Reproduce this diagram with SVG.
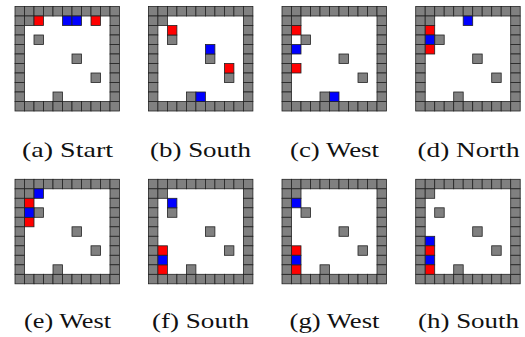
<svg xmlns="http://www.w3.org/2000/svg" width="525" height="337" viewBox="0 0 525 337">
<style>
.c{stroke:#222;stroke-width:.8}
.g{fill:#808080}.r{fill:#f00}.b{fill:#00f}
text{font-family:"Liberation Serif","Times New Roman",serif;font-size:22px;fill:#111;text-anchor:middle}
</style>
<defs>
<rect id="w" class="c g" width="9.5" height="9.5"/>
<rect id="rd" class="c r" width="9.5" height="9.5"/>
<rect id="bl" class="c b" width="9.5" height="9.5"/>
<g id="board">
<use href="#w" x="0" y="0"/><use href="#w" x="9.5" y="0"/><use href="#w" x="19" y="0"/><use href="#w" x="28.5" y="0"/><use href="#w" x="38" y="0"/><use href="#w" x="47.5" y="0"/><use href="#w" x="57" y="0"/><use href="#w" x="66.5" y="0"/><use href="#w" x="76" y="0"/><use href="#w" x="85.5" y="0"/><use href="#w" x="95" y="0"/>
<use href="#w" x="0" y="95"/><use href="#w" x="9.5" y="95"/><use href="#w" x="19" y="95"/><use href="#w" x="28.5" y="95"/><use href="#w" x="38" y="95"/><use href="#w" x="47.5" y="95"/><use href="#w" x="57" y="95"/><use href="#w" x="66.5" y="95"/><use href="#w" x="76" y="95"/><use href="#w" x="85.5" y="95"/><use href="#w" x="95" y="95"/>
<use href="#w" x="0" y="9.5"/><use href="#w" x="0" y="19"/><use href="#w" x="0" y="28.5"/><use href="#w" x="0" y="38"/><use href="#w" x="0" y="47.5"/><use href="#w" x="0" y="57"/><use href="#w" x="0" y="66.5"/><use href="#w" x="0" y="76"/><use href="#w" x="0" y="85.5"/>
<use href="#w" x="95" y="9.5"/><use href="#w" x="95" y="19"/><use href="#w" x="95" y="28.5"/><use href="#w" x="95" y="38"/><use href="#w" x="95" y="47.5"/><use href="#w" x="95" y="57"/><use href="#w" x="95" y="66.5"/><use href="#w" x="95" y="76"/><use href="#w" x="95" y="85.5"/>
<use href="#w" x="9.5" y="9.5"/><use href="#w" x="19" y="28.5"/><use href="#w" x="57" y="47.5"/><use href="#w" x="76" y="66.5"/><use href="#w" x="38" y="85.5"/>
</g>
</defs>
<g id="panel-a" transform="translate(15,6.5)"><use href="#board"/><use href="#rd" x="19" y="9.5"/><use href="#bl" x="47.5" y="9.5"/><use href="#bl" x="57" y="9.5"/><use href="#rd" x="76" y="9.5"/></g>
<text x="67.5" y="157" textLength="91" lengthAdjust="spacingAndGlyphs">(a) Start</text>
<g id="panel-b" transform="translate(148.4,6.5)"><use href="#board"/><use href="#rd" x="19" y="19"/><use href="#bl" x="57" y="38"/><use href="#rd" x="76" y="57"/><use href="#bl" x="47.5" y="85.5"/></g>
<text x="200.5" y="157" textLength="101" lengthAdjust="spacingAndGlyphs">(b) South</text>
<g id="panel-c" transform="translate(282,6.5)"><use href="#board"/><use href="#rd" x="9.5" y="19"/><use href="#bl" x="9.5" y="38"/><use href="#rd" x="9.5" y="57"/><use href="#bl" x="47.5" y="85.5"/></g>
<text x="334.5" y="157" textLength="89" lengthAdjust="spacingAndGlyphs">(c) West</text>
<g id="panel-d" transform="translate(415.7,6.5)"><use href="#board"/><use href="#bl" x="47.5" y="9.5"/><use href="#rd" x="9.5" y="19"/><use href="#rd" x="9.5" y="38"/><use href="#bl" x="9.5" y="28.5"/></g>
<text x="468.5" y="157" textLength="102" lengthAdjust="spacingAndGlyphs">(d) North</text>
<g id="panel-e" transform="translate(15,179.3)"><use href="#board"/><use href="#bl" x="19" y="9.5"/><use href="#rd" x="9.5" y="19"/><use href="#rd" x="9.5" y="38"/><use href="#bl" x="9.5" y="28.5"/></g>
<text x="67.5" y="328" textLength="87" lengthAdjust="spacingAndGlyphs">(e) West</text>
<g id="panel-f" transform="translate(148.4,179.3)"><use href="#board"/><use href="#bl" x="19" y="19"/><use href="#rd" x="9.5" y="66.5"/><use href="#rd" x="9.5" y="85.5"/><use href="#bl" x="9.5" y="76"/></g>
<text x="200.5" y="328" textLength="97" lengthAdjust="spacingAndGlyphs">(f) South</text>
<g id="panel-g" transform="translate(282,179.3)"><use href="#board"/><use href="#bl" x="9.5" y="19"/><use href="#rd" x="9.5" y="66.5"/><use href="#rd" x="9.5" y="85.5"/><use href="#bl" x="9.5" y="76"/></g>
<text x="334.5" y="328" textLength="90" lengthAdjust="spacingAndGlyphs">(g) West</text>
<g id="panel-h" transform="translate(415.7,179.3)"><use href="#board"/><use href="#bl" x="9.5" y="57"/><use href="#rd" x="9.5" y="66.5"/><use href="#bl" x="9.5" y="76"/><use href="#rd" x="9.5" y="85.5"/></g>
<text x="468.5" y="328" textLength="101" lengthAdjust="spacingAndGlyphs">(h) South</text>
</svg>
